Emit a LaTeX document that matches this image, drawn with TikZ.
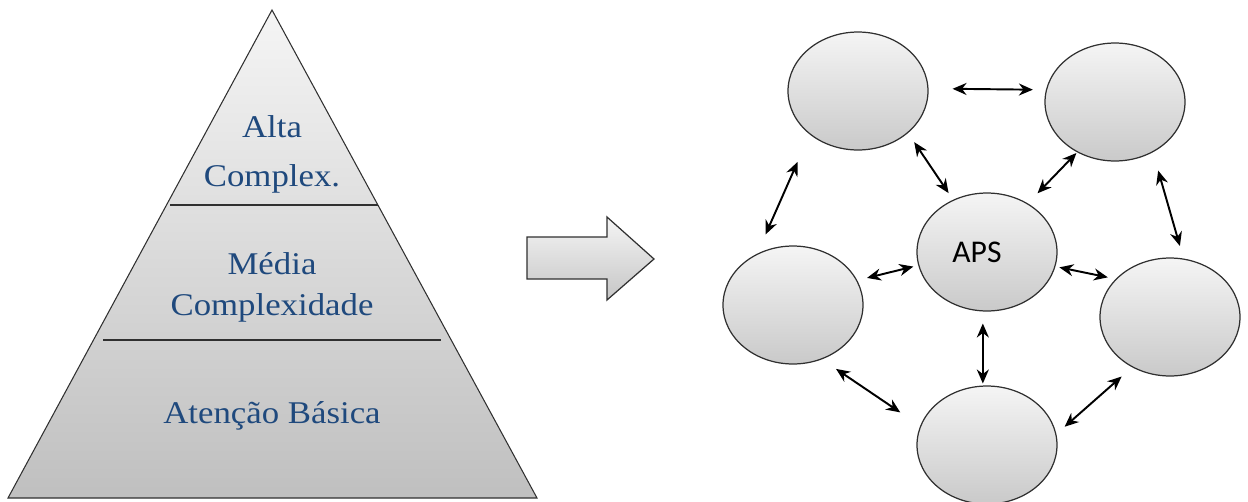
\documentclass[tikz,border=0pt]{standalone}
\usepackage{fontspec}
\newfontfamily\pyrfont{Liberation Serif}[FakeStretch=1.1]
\newfontfamily\apsfont{Carlito}
\usetikzlibrary{shapes.geometric,arrows.meta}
\definecolor{pyrblue}{RGB}{31,73,125}
\definecolor{rim}{RGB}{48,48,48}

\begin{document}
\begin{tikzpicture}[x=0.02cm,y=-0.02cm,
  unit/.style={ellipse,draw=rim,line width=0.7pt,top color=gray!8,bottom color=gray!42,
    minimum width=2.8cm,minimum height=2.36cm,inner sep=0pt},
  link/.style={line width=1.1pt,{Stealth[length=2.8mm,width=2.4mm]}-{Stealth[length=2.8mm,width=2.4mm]}},
  level/.style={text=pyrblue,align=center,font=\pyrfont\fontsize{18}{28}\selectfont},
  divider/.style={draw=rim,line width=1.3pt}]
\useasboundingbox (0,0) rectangle (1248,501);
% pyramid
\draw[rim,line width=0.6pt,top color=gray!8,bottom color=gray!50] (272,10) -- (537,498) -- (8,498) -- cycle;
\draw[divider] (170,205) -- (378,205);
\draw[divider] (103,340) -- (441,340);
\node[level] (alta) at (272,154) {Alta\\Complex.};
\node[level] (media) at (272,287) {M\'edia\\[-4.6pt]Complexidade};
\node[level] (basica) at (272,416) {Aten\c{c}\~ao B\'asica};
% block arrow
\draw[rim,line width=0.7pt,top color=gray!8,bottom color=gray!45] (527,237) -- (607,237) -- (607,217)
  -- (654,259) -- (607,300) -- (607,279) -- (527,279) -- cycle;
% network
\node[unit] (tl) at (858,91) {};
\node[unit] (tr) at (1115,102) {};
\node[unit,font=\apsfont\fontsize{18}{20}\selectfont] (aps) at (987,252) {APS\kern0.4cm};
\node[unit] (l) at (793,305) {};
\node[unit] (r) at (1170,317) {};
\node[unit] (b) at (987,445) {};
\draw[link,shorten <=0.48cm,shorten >=0.26cm] (tl.2) -- (tr.170);
\draw[link,shorten <=0.22cm,shorten >=0.16cm] (tl.320) -- (aps.123);
\draw[link,shorten <=0.02cm,shorten >=0.28cm] (tr.233) -- (aps.50);
\draw[link,shorten <=0.6cm,shorten >=0.42cm] (tl.222) -- (l.125);
\draw[link,shorten <=0.38cm,shorten >=0.26cm] (tr.307) -- (r.77);
\draw[link,shorten <=0.1cm,shorten >=0.2cm] (aps.191) -- (l.21);
\draw[link,shorten <=0.08cm,shorten >=0.16cm] (aps.348) -- (r.145);
\draw[link,shorten <=0.24cm,shorten >=0.04cm] (aps.266) -- (b.94);
\draw[link,shorten <=0.34cm,shorten >=0.48cm] (l.298) -- (b.164);
\draw[link,shorten <=0.28cm,shorten >=0.22cm] (r.233) -- (b.9);
\end{tikzpicture}
\end{document}
